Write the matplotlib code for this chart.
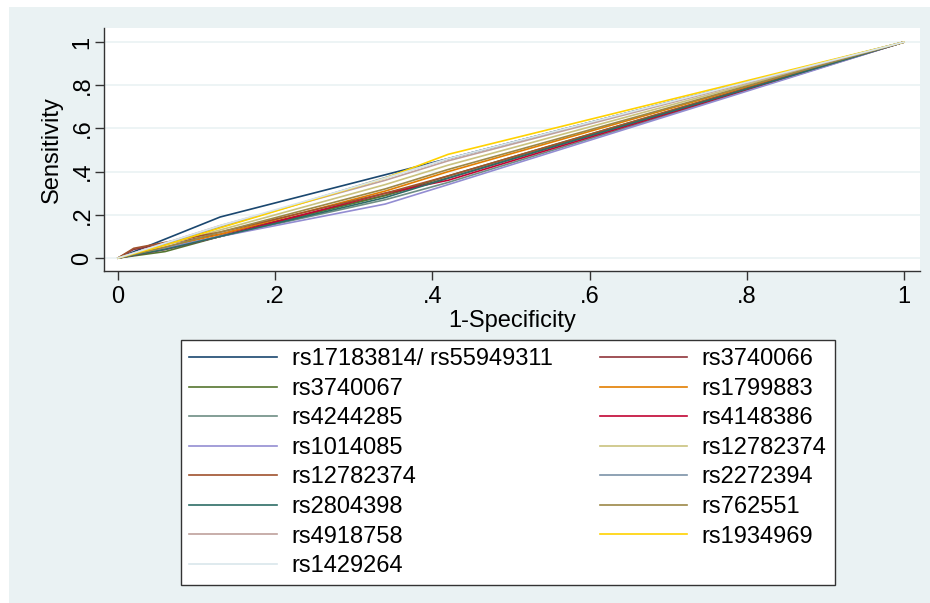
import matplotlib.pyplot as plt
from matplotlib.patches import Rectangle

plt.rcParams['font.family'] = ['Liberation Sans', 'DejaVu Sans']

# ROC curves (1-specificity, sensitivity)
labels = ['rs17183814/ rs55949311', 'rs3740066', 'rs3740067', 'rs1799883',
          'rs4244285', 'rs4148386', 'rs1014085', 'rs12782374', 'rs12782374',
          'rs2272394', 'rs2804398', 'rs762551', 'rs4918758', 'rs1934969',
          'rs1429264']

fpr = [
    [0, 0.13, 1],
    [0, 0.02, 0.13, 0.34, 0.42, 1],
    [0, 0.06, 0.13, 0.34, 0.42, 1],
    [0, 0.06, 0.13, 0.34, 0.42, 1],
    [0, 0.13, 0.34, 0.42, 1],
    [0, 0.06, 0.13, 0.34, 0.42, 1],
    [0, 0.13, 0.34, 0.42, 1],
    [0, 0.06, 0.13, 0.34, 0.42, 1],
    [0, 0.02, 0.13, 0.34, 0.42, 1],
    [0, 0.42, 1],
    [0, 0.06, 0.13, 0.34, 0.42, 1],
    [0, 0.06, 0.13, 0.34, 0.42, 1],
    [0, 0.13, 0.34, 0.42, 1],
    [0, 0.06, 0.13, 0.34, 0.42, 1],
    [0, 0.13, 0.34, 0.42, 1],
]
tpr = [
    [0, 0.19, 1],
    [0, 0.04, 0.11, 0.29, 0.37, 1],
    [0, 0.03, 0.10, 0.29, 0.38, 1],
    [0, 0.05, 0.11, 0.31, 0.40, 1],
    [0, 0.10, 0.27, 0.35, 1],
    [0, 0.04, 0.10, 0.30, 0.36, 1],
    [0, 0.10, 0.25, 0.34, 1],
    [0, 0.06, 0.13, 0.34, 0.43, 1],
    [0, 0.045, 0.12, 0.30, 0.38, 1],
    [0, 0.46, 1],
    [0, 0.04, 0.10, 0.28, 0.37, 1],
    [0, 0.05, 0.12, 0.32, 0.41, 1],
    [0, 0.15, 0.36, 0.45, 1],
    [0, 0.06, 0.14, 0.37, 0.48, 1],
    [0, 0.15, 0.37, 0.46, 1],
]

# Stata s2color pen order
colors = ['#1A476F', '#90353B', '#55752F', '#E37E00', '#6E8E84', '#C10534',
          '#938DD2', '#CAC27E', '#A0522D', '#7B92A8', '#2D6D66', '#9C8847',
          '#BFA19C', '#FFD200', '#D9E6EB']

ticks = [0, 0.2, 0.4, 0.6, 0.8, 1]
tick_labels = ['0', '.2', '.4', '.6', '.8', '1']

W, H = 930, 603
FS = 17
fig = plt.figure(figsize=(W / 100, H / 100), dpi=100)
fig.patch.set_facecolor('white')
# light blue-grey graph region
fig.patches.append(Rectangle((9 / W, 0), 1 - 9 / W, 1 - 7 / H,
                             transform=fig.transFigure, facecolor='#EAF2F3',
                             edgecolor='none', zorder=-1))

ax = fig.add_axes([104 / W, 1 - 271 / H, (920 - 104) / W, (271 - 28) / H])
ax.set_zorder(1)
ax.set_facecolor('white')

lines = []
for x, y, c, lab in zip(fpr, tpr, colors, labels):
    ln, = ax.plot(x, y, color=c, lw=1.2, label=lab)
    lines.append(ln)

ax.set_xlim(-0.0178, 1.0204)
ax.set_ylim(-0.06, 1.065)

ax.set_xticks(ticks)
ax.set_xticklabels(tick_labels, fontsize=FS)
ax.set_yticks(ticks)
ax.set_yticklabels(tick_labels, fontsize=FS, rotation=90, va='center')
ax.tick_params(length=6.5, width=1, color='#333333')
ax.tick_params(axis='x', pad=4)
ax.tick_params(axis='y', pad=1)

for t in ticks:
    ax.axhline(t, color='#EAF2F3', lw=1.2, zorder=0)

for s in ['top', 'right']:
    ax.spines[s].set_visible(False)
for s in ['left', 'bottom']:
    ax.spines[s].set_color('#333333')
    ax.spines[s].set_linewidth(1)

ax.set_xlabel('1-Specificity', fontsize=FS, labelpad=2)
ax.set_ylabel('Sensitivity', fontsize=FS, labelpad=6)

# legend is row-major in the original (series 1,2 on first row ...)
order = list(range(0, 15, 2)) + list(range(1, 15, 2))
leg = fig.legend([lines[i] for i in order], [labels[i] for i in order],
                 ncol=2, loc='upper left', bbox_to_anchor=(181 / W, 1 - 340 / H),
                 borderaxespad=0, fontsize=FS, frameon=True, fancybox=False,
                 framealpha=1, handlelength=3.7, handletextpad=0.63,
                 columnspacing=2.0, labelspacing=0.32, borderpad=0.35)
leg.get_frame().set_edgecolor('#333333')
leg.get_frame().set_linewidth(1)

fig.savefig('out.png', dpi=100)
